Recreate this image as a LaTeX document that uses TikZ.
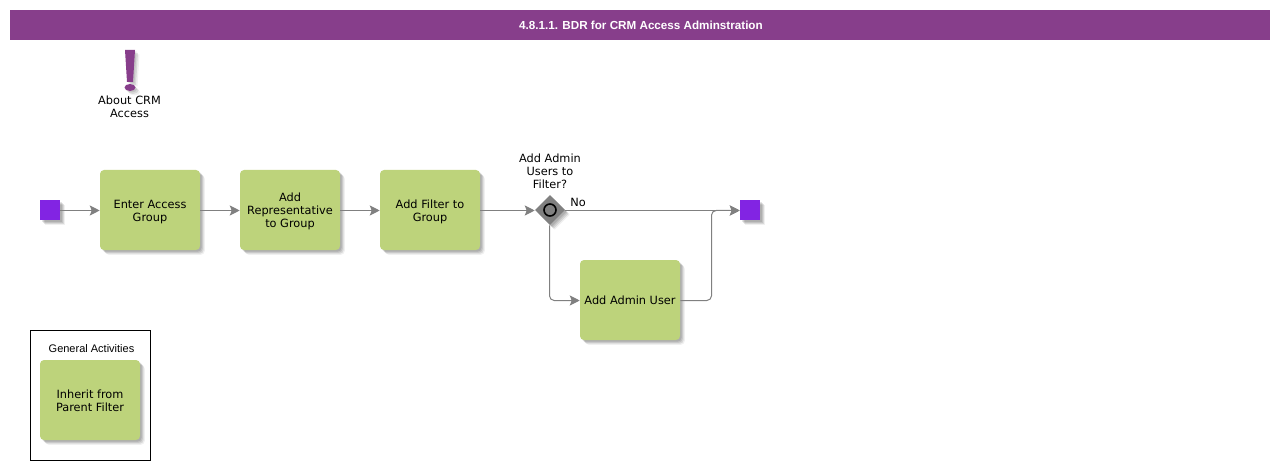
\documentclass[tikz,border=0pt]{standalone}
\usepackage{fontspec}
\setmainfont{DejaVu Sans}
\newfontfamily\headfont{Liberation Sans}
\usetikzlibrary{shapes.geometric,shadows,arrows.meta,calc}
\definecolor{banner}{HTML}{873E8B}
\definecolor{task}{HTML}{BDD37B}
\definecolor{terminal}{HTML}{8224E3}
\definecolor{flow}{HTML}{808080}
% taller first line pushes a label slightly below the box centre
\newcommand{\droptext}[1]{\rule{0pt}{#1}}
\tikzset{
  softshadow/.style={
    general shadow={shadow xshift=1.2pt,shadow yshift=-1.2pt,fill=black,opacity=.10},
    general shadow={shadow xshift=2pt,shadow yshift=-2pt,fill=black,opacity=.10},
    general shadow={shadow xshift=2.8pt,shadow yshift=-2.8pt,fill=black,opacity=.10},
    general shadow={shadow xshift=3.6pt,shadow yshift=-3.6pt,fill=black,opacity=.06}},
  taskbox/.style={softshadow,draw=none,fill=task,rounded corners=3pt,minimum width=75pt,minimum height=60pt,
    inner sep=0pt,align=center,font=\fontsize{8.5pt}{9.75pt}\selectfont,text=black},
  terminalbox/.style={softshadow,draw=none,fill=terminal,minimum size=15pt,inner sep=0pt},
  gatebox/.style={softshadow,shape=diamond,draw=none,fill=flow,minimum size=22.5pt,inner sep=0pt},
  caption/.style={align=center,inner sep=0pt,font=\fontsize{8.5pt}{9.75pt}\selectfont,text=black},
  flowline/.style={draw=flow,line width=0.75pt,transform canvas={yshift=-0.375pt},
    -{Stealth[length=7.5pt,width=7.5pt,inset=1.5pt,fill=flow]}},
}
\begin{document}
\begin{tikzpicture}[x=0.75pt,y=-0.75pt]
\useasboundingbox (0,0) rectangle (1280,470);
% title bar
\node[fill=banner,minimum width=945pt,minimum height=22.5pt,inner sep=0pt,text=white,
  font=\headfont\bfseries\fontsize{8.75pt}{11pt}\selectfont] (title) at (640,25) {\kern1.5pt 4.8.1.1. BDR for CRM Access Adminstration};

% exclamation mark with its soft shadow
\foreach \d/\o in {1.5/.10,3/.10,4.5/.06}{
  \fill[black,opacity=\o,shift={(\d,\d)}] (125,50) -- (135,50) -- (133,82) -- (127,82) -- cycle;
  \fill[black,opacity=\o,shift={(\d,\d)}] (130,87.5) ellipse (5.5 and 3.5);
}
\fill[banner] (125,50) -- (135,50) -- (133,82) -- (127,82) -- cycle;
\fill[banner] (130,87.5) ellipse (5.5 and 3.5);
\node[caption] (about) at (129.5,106.5) {About CRM\\Access};

% main flow
\node[terminalbox] (start) at (50,210) {};
\node[taskbox] (enter) at (150,210) {\droptext{9.3pt}Enter Access\\Group};
\node[taskbox] (rep) at (290,210) {\droptext{8pt}Add\\Representative\\to Group};
\node[taskbox] (filter) at (430,210) {\droptext{9.3pt}Add Filter to\\Group};
\node[gatebox] (gate) at (550,210) {};
\draw[black,line width=1.2pt,fill=flow] (gate.center) circle (6);
\node[caption] (gatelabel) at (550,171) {Add Admin\\Users to\\Filter?};
\node[caption,anchor=west] (no) at (570,202.5) {No};
\node[taskbox] (admin) at (630,300) {Add Admin User};
\node[terminalbox] (finish) at (750,210) {};
\coordinate (merge) at (711.5,210);
\coordinate (gatefoot) at (549.5,225);

\draw[flowline] (start) -- (enter);
\draw[flowline] (enter) -- (rep);
\draw[flowline] (rep) -- (filter);
\draw[flowline] (filter) -- (gate);
\draw[flowline] (gate) -- (finish);
\draw[flowline,rounded corners=3.5pt] (gatefoot) |- (admin.west);
\draw[flowline,rounded corners=3.5pt] (admin.east) -| (merge) -- (finish.west);

% general activities panel
\node[draw=black,line width=0.75pt,minimum width=90pt,minimum height=97.5pt,inner sep=0pt] (panel) at (90.5,395.5) {};
\node[inner sep=0pt,font=\headfont\fontsize{8.25pt}{10pt}\selectfont] (paneltitle) at (91.5,349) {General Activities};
\node[taskbox] (inherit) at (90,400) {\droptext{8pt}Inherit from\\Parent Filter};
\end{tikzpicture}
\end{document}
